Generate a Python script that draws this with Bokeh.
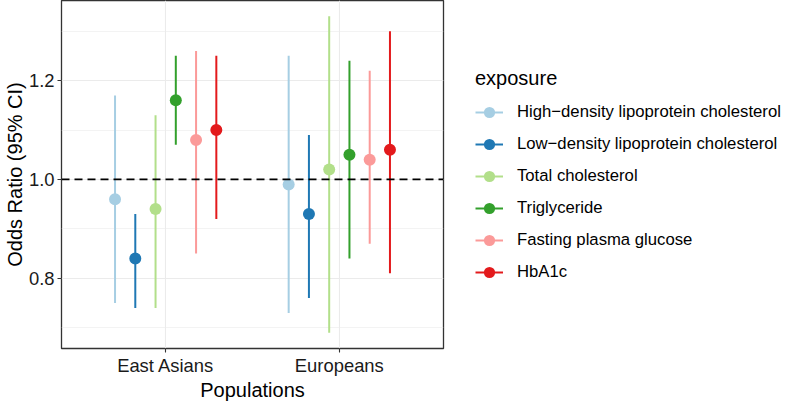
from bokeh.plotting import figure
from bokeh.models import ColumnDataSource, FixedTicker, Span, Legend, LegendItem, NumeralTickFormatter
from bokeh.embed import file_html
from bokeh.resources import INLINE

populations = ["East Asians", "Europeans"]
exposures = ["High\u2212density lipoprotein cholesterol", "Low\u2212density lipoprotein cholesterol",
             "Total cholesterol", "Triglyceride", "Fasting plasma glucose", "HbA1c"]
colors = ["#A6CEE3", "#1F78B4", "#B2DF8A", "#33A02C", "#FB9A99", "#E31A1C"]

or_east_asians = [0.96, 0.84, 0.94, 1.16, 1.08, 1.10]
lo_east_asians = [0.75, 0.74, 0.74, 1.07, 0.85, 0.92]
hi_east_asians = [1.17, 0.93, 1.13, 1.25, 1.26, 1.25]

or_europeans = [0.99, 0.93, 1.02, 1.05, 1.04, 1.06]
lo_europeans = [0.73, 0.76, 0.69, 0.84, 0.87, 0.81]
hi_europeans = [1.25, 1.09, 1.33, 1.24, 1.22, 1.30]

y_major = [0.8, 1.0, 1.2]
y_minor = [0.7, 0.9, 1.1, 1.3]
reference_line = 1.0

FONT = "Liberation Sans"

p = figure(frame_width=382, frame_height=348, x_range=(0.4, 2.6), y_range=(0.658, 1.362),
           output_backend="svg", toolbar_location=None,
           min_border_left=54, min_border_top=0, min_border_right=350, min_border_bottom=0,
           background_fill_color="white", border_fill_color="white")

n = len(exposures)
dodge = 0.7
items = []
for i, (name, col) in enumerate(zip(exposures, colors)):
    off = (i - (n - 1) / 2) * dodge / n
    xs = [g + 1 + off for g in range(len(populations))]
    src = ColumnDataSource(dict(
        x=xs,
        y=[or_east_asians[i], or_europeans[i]],
        lo=[lo_east_asians[i], lo_europeans[i]],
        hi=[hi_east_asians[i], hi_europeans[i]],
    ))
    seg = p.segment(x0="x", y0="lo", x1="x", y1="hi", source=src, line_color=col, line_width=2)
    pts = p.scatter(x="x", y="y", source=src, size=12, fill_color=col, line_color=col, line_width=0)
    items.append(LegendItem(label=name, renderers=[seg, pts]))

p.add_layout(Span(location=reference_line, dimension="width", line_color="black",
                  line_dash="8 5", line_width=1.8))

# axes
p.xaxis.ticker = FixedTicker(ticks=[1, 2])
p.xaxis.major_label_overrides = {1: populations[0], 2: populations[1]}
p.yaxis.ticker = FixedTicker(ticks=y_major, minor_ticks=y_minor)
p.yaxis.formatter = NumeralTickFormatter(format="0.0")
p.xaxis.axis_label = "Populations"
p.yaxis.axis_label = "Odds Ratio (95% CI)"
for ax in (p.xaxis, p.yaxis):
    ax.axis_line_color = None
    ax.major_tick_line_color = "#333333"
    ax.major_tick_line_width = 1.1
    ax.major_tick_in = 0
    ax.major_tick_out = 4
    ax.minor_tick_line_color = None
    ax.major_label_text_font = FONT
    ax.major_label_text_font_size = "18.4px"
    ax.major_label_text_color = "#1A1A1A"
    ax.axis_label_text_font = FONT
    ax.axis_label_text_font_size = "20px"
    ax.axis_label_text_font_style = "normal"
    ax.axis_label_text_color = "black"
    ax.axis_label_standoff = 0
p.xaxis.major_label_standoff = 2
p.yaxis.major_label_standoff = 3

p.xgrid.ticker = FixedTicker(ticks=[1, 2])
p.xgrid.grid_line_color = "#EBEBEB"
p.xgrid.grid_line_width = 1.1
p.ygrid.grid_line_color = "#EBEBEB"
p.ygrid.grid_line_width = 1.1
p.ygrid.minor_grid_line_color = "#EBEBEB"
p.ygrid.minor_grid_line_width = 0.6

p.outline_line_color = "#333333"
p.outline_line_width = 1.3

legend = Legend(items=items, title="exposure", location=(32, 62),
                border_line_color=None, background_fill_alpha=0,
                title_text_font=FONT, title_text_font_size="20px", title_text_color="black",
                title_text_font_style="normal", title_standoff=8,
                label_text_font=FONT, label_text_font_size="16.7px", label_text_color="black",
                glyph_width=28, glyph_height=28, spacing=4, label_standoff=14,
                padding=0, margin=0)
p.add_layout(legend, "right")

open("out.html", "w").write(file_html(p, INLINE))
